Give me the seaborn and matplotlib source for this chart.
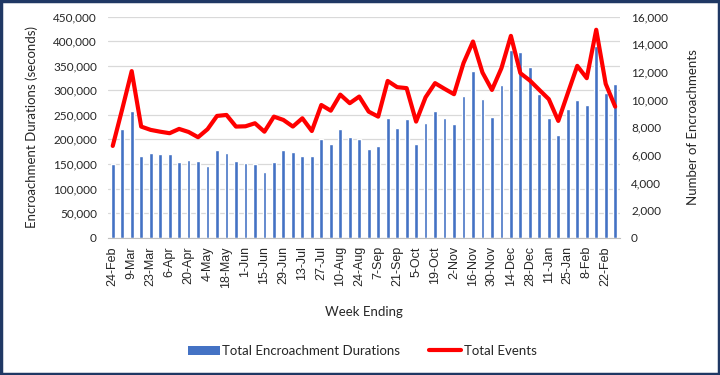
import numpy as np
import pandas as pd
import matplotlib
matplotlib.use("Agg")
import matplotlib.pyplot as plt
import seaborn as sns
from matplotlib.patches import Patch, Rectangle
from matplotlib.lines import Line2D
from matplotlib.ticker import FuncFormatter, MultipleLocator

# weekly data, week ending 24-Feb through 1-Mar
weeks = pd.date_range("2020-02-24", periods=54, freq="7D").strftime("%-d-%b").tolist()

durations = [151000, 222000, 258000, 167000, 172000, 170000, 170000, 154000, 158000, 156000,
             145000, 178000, 172000, 157000, 152000, 151000, 133000, 155000, 178000, 174000,
             166000, 166000, 200000, 191000, 222000, 205000, 201000, 181000, 186000, 244000,
             224000, 242000, 191000, 233000, 258000, 243000, 232000, 289000, 339000, 282000,
             246000, 311000, 382000, 378000, 348000, 292000, 243000, 208000, 262000, 280000,
             269000, 389000, 295000, 313000]

events = [6640, 9300, 12050, 8040, 7800, 7670, 7560, 7870, 7650, 7270,
          7850, 8810, 8880, 8040, 8060, 8280, 7670, 8760, 8520, 8040,
          8640, 7720, 9600, 9190, 10350, 9730, 10210, 9120, 8760, 11340,
          10890, 10820, 8400, 10160, 11180, 10770, 10380, 12630, 14190, 11950,
          10690, 12260, 14600, 11900, 11370, 10690, 10020, 8450, 10450, 12430,
          11540, 15040, 11130, 9480]

BLUE = "#4472C4"
RED = "#FF0000"
TXT = "#262626"

sns.set_style("white")
plt.rcParams["font.family"] = ["Lato", "DejaVu Sans"]

df = pd.DataFrame({"week": weeks, "durations": durations, "events": events})

fig = plt.figure(figsize=(7.2, 3.75), dpi=100)
ax = fig.add_axes([0.15, 0.366, 0.711, 0.590])

sns.barplot(data=df, x="week", y="durations", color=BLUE, saturation=1, width=0.4, ax=ax)
ax.set_xlim(-0.5, len(weeks) - 0.5)
ax.set_ylim(0, 450000)
ax.yaxis.set_major_locator(MultipleLocator(50000))
ax.yaxis.set_major_formatter(FuncFormatter(lambda v, p: f"{int(v):,}"))
ax.grid(axis="y", color="#D9D9D9", linewidth=0.9)
ax.set_axisbelow(True)
for s in ["top", "right", "left"]:
    ax.spines[s].set_visible(False)
ax.spines["bottom"].set_color("#BFBFBF")

# every second week labelled, tick marks between categories
ax.set_xticks(range(0, len(weeks), 2))
ax.set_xticklabels(weeks[::2], rotation=90, family=["Liberation Sans"], fontsize=9, color=TXT)
ax.set_xticks(np.arange(-0.5, len(weeks)), minor=True)
ax.tick_params(axis="x", which="major", length=0, pad=6)
ax.tick_params(axis="x", which="minor", length=4, color="#BFBFBF", width=0.8)
ax.tick_params(axis="y", length=0, labelsize=8.5, labelcolor=TXT, pad=8)
ax.set_xlabel("Week Ending", fontsize=9.5, color=TXT, labelpad=13)
ax.set_ylabel("Encroachment Durations (seconds)", fontsize=9.5, color=TXT, labelpad=11)

ax2 = ax.twinx()
sns.lineplot(x=np.arange(len(weeks)), y=df["events"], color=RED, linewidth=3, ax=ax2)
ax2.set_ylim(0, 16000)
ax2.yaxis.set_major_locator(MultipleLocator(2000))
ax2.yaxis.set_major_formatter(FuncFormatter(lambda v, p: f"{int(v):,}"))
for s in ["top", "right", "left", "bottom"]:
    ax2.spines[s].set_visible(False)
ax2.tick_params(axis="y", length=0, labelsize=8.5, labelcolor=TXT, pad=8)
ax2.set_ylabel("Number of Encroachments", fontsize=9.5, color=TXT, labelpad=14)

handles = [Patch(facecolor=BLUE, edgecolor="none"),
           Line2D([0], [0], color=RED, linewidth=3)]
fig.legend(handles, ["Total Encroachment Durations", "Total Events"],
           loc="center", bbox_to_anchor=(0.503, 0.064), ncol=2, frameon=False,
           fontsize=9.5, handlelength=2.4, handletextpad=0.2, columnspacing=2.2,
           labelcolor=TXT)

fig.patches.append(Rectangle((0.002, 0.003), 0.996, 0.994, transform=fig.transFigure,
                             fill=False, edgecolor="#1F3864", linewidth=2.5))

fig.savefig("out.png", dpi=100)
